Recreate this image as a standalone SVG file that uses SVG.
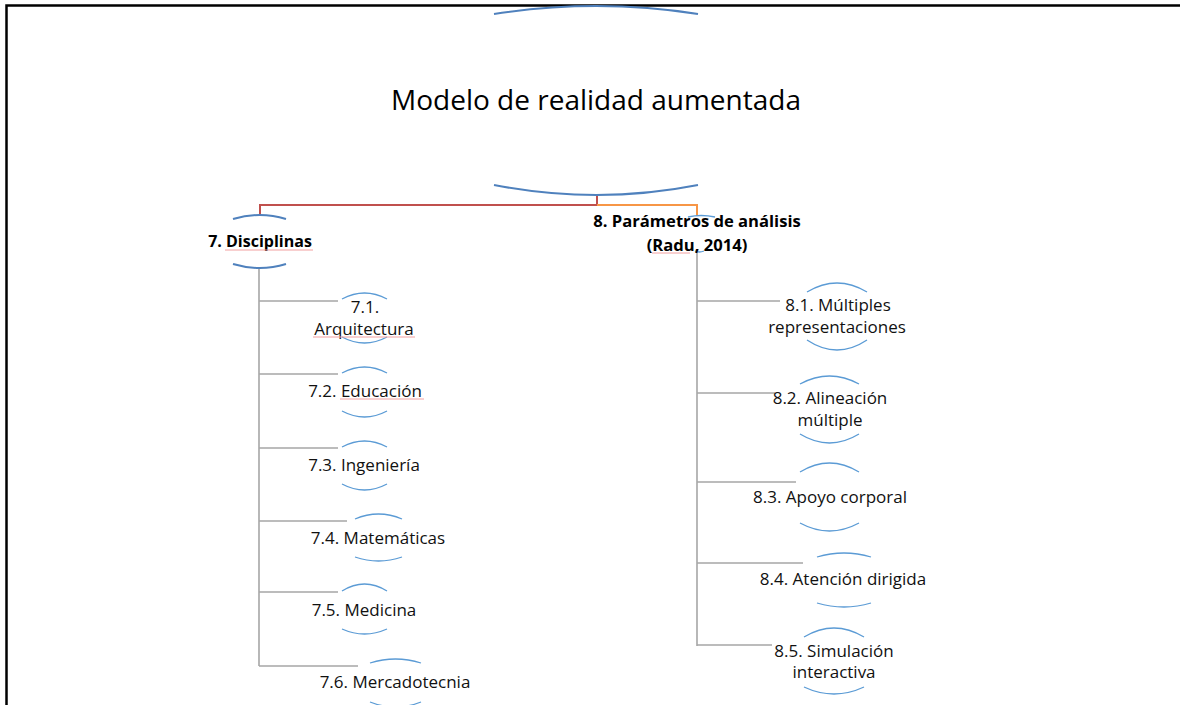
<svg xmlns="http://www.w3.org/2000/svg" width="1180" height="705" viewBox="0 0 1180 705">
<style>
.bg{fill:#ffffff}
.frame{fill:none;stroke:#000;stroke-width:2.5}
.arcL{fill:none;stroke:#4f81bd;stroke-width:2}
.arc{fill:none;stroke:#5b9bd5;stroke-width:1.3}
.red{fill:none;stroke:#c0504d;stroke-width:2}
.orange{fill:none;stroke:#f79646;stroke-width:2}
.grey{fill:none;stroke:#a6a6a6;stroke-width:1.6}
.sp{fill:none;stroke:#f2a0a0;stroke-width:1}
.t{font-family:"Open Sans","Liberation Sans",sans-serif;font-size:17px;fill:#111;text-anchor:middle}
.b{font-family:"Open Sans","Liberation Sans",sans-serif;font-size:16px;font-weight:700;fill:#000;text-anchor:middle}
.b2{font-size:16.6px}
.title{font-family:"Open Sans","Liberation Sans",sans-serif;font-size:28px;fill:#000;text-anchor:middle}
</style>
<rect class="bg" x="0" y="0" width="1180" height="705"/>
<path class="frame" d="M6.5,705 V5.5 H1180"/>

<g id="connectors">
<path class="red" d="M597,195 V205 H260 V215"/>
<path class="orange" d="M597,205 H697 V216"/>
<path class="grey" d="M259,268 V666"/>
<path class="grey" d="M259,301 H338 M259,374 H338 M259,448 H338 M259,521 H347 M259,592 H338 M259,666 H358"/>
<path class="grey" d="M697,252 V646"/>
<path class="grey" d="M697,301 H780 M697,393 H775 M697,482 H796 M697,563 H803 M697,645 H772"/>
</g>

<g id="root">
<path class="arcL" d="M494,14 Q597,-2 698,14"/>
<path class="arcL" d="M494,185 Q597,205 698,185"/>
<text class="title" x="596" y="110">Modelo de realidad aumentada</text>
</g>

<g id="n7">
<path class="arcL" d="M233,219 Q260,211 286,219"/>
<path class="arcL" d="M233,264 Q260,272 286,264"/>
<text class="b" x="260" y="247">7. Disciplinas</text>
<path class="sp" d="M225,250 H313"/>
</g>

<g id="n8">
<path class="arc" d="M688,217 Q701,214 715,217"/>
<path class="arc" d="M695,251 Q699,253 704,251"/>
<text class="b b2" x="697" y="227">8. Parámetros de análisis</text>
<text class="b b2" x="697" y="251">(Radu, 2014)</text>
<path class="sp" d="M652,253 H690"/>
</g>

<g id="n71">
<path class="arc" d="M342,299 Q364.5,287 387,299"/>
<path class="arc" d="M342,337 Q364.5,349 387,337"/>
<text class="t" x="365" y="313">7.1.</text>
<text class="t" x="364" y="335">Arquitectura</text>
<path class="sp" d="M313,337 H415"/>
</g>

<g id="n72">
<path class="arc" d="M342,373 Q364.5,361 387,373"/>
<path class="arc" d="M342,411 Q364.5,423 387,411"/>
<text class="t" x="365" y="397">7.2. Educación</text>
<path class="sp" d="M340,399 H424"/>
</g>

<g id="n73">
<path class="arc" d="M342,447 Q364.5,435 387,447"/>
<path class="arc" d="M342,484 Q364.5,496 387,484"/>
<text class="t" x="364" y="471">7.3. Ingeniería</text>
</g>

<g id="n74">
<path class="arc" d="M355,519 Q378.5,509 402,519"/>
<path class="arc" d="M355,557 Q378.5,565 402,557"/>
<text class="t" x="378" y="544">7.4. Matemáticas</text>
</g>

<g id="n75">
<path class="arc" d="M342,591 Q364.5,577 387,591"/>
<path class="arc" d="M342,629 Q364.5,639 387,629"/>
<text class="t" x="364" y="616">7.5. Medicina</text>
</g>

<g id="n76">
<path class="arc" d="M370,663 Q395.5,655 421,663"/>
<path class="arc" d="M370,702 Q395.5,712 421,702"/>
<text class="t" x="395" y="688">7.6. Mercadotecnia</text>
</g>

<g id="n81">
<path class="arc" d="M807,292 Q837,274 867,292"/>
<path class="arc" d="M807,340 Q837,360 867,340"/>
<text class="t" x="838" y="311">8.1. Múltiples</text>
<text class="t" x="837" y="333">representaciones</text>
</g>

<g id="n82">
<path class="arc" d="M800,384 Q829.5,368 859,384"/>
<path class="arc" d="M800,434 Q829.5,452 859,434"/>
<text class="t" x="830" y="404">8.2. Alineación</text>
<text class="t" x="830" y="426">múltiple</text>
</g>

<g id="n83">
<path class="arc" d="M800,472 Q829.5,454 859,472"/>
<path class="arc" d="M800,523 Q829.5,539 859,523"/>
<text class="t" x="830" y="503">8.3. Apoyo corporal</text>
</g>

<g id="n84">
<path class="arc" d="M817,557 Q844,549 871,557"/>
<path class="arc" d="M817,603 Q844,611 871,603"/>
<text class="t" x="843" y="585">8.4. Atención dirigida</text>
</g>

<g id="n85">
<path class="arc" d="M804,637 Q834,619 864,637"/>
<path class="arc" d="M804,687 Q834,701 864,687"/>
<text class="t" x="834" y="657">8.5. Simulación</text>
<text class="t" x="834" y="678">interactiva</text>
</g>
</svg>
